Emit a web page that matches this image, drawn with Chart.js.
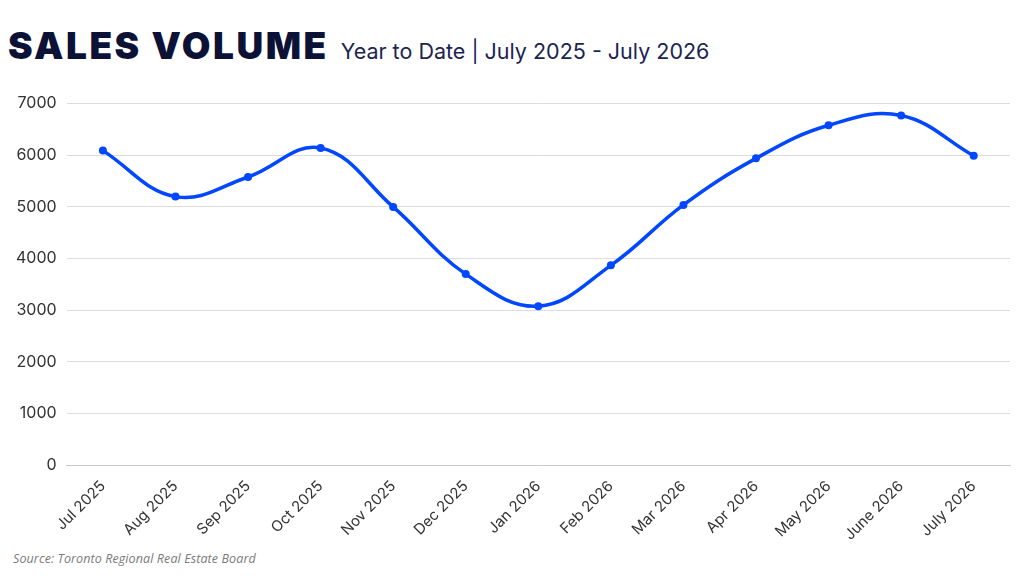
<!DOCTYPE html>
<html>
<head>
<meta charset="utf-8">
<script src="https://cdn.jsdelivr.net/npm/chart.js@4/dist/chart.umd.min.js"></script>
<style>
  html, body { margin: 0; padding: 0; background: #fff; }
  body { width: 1024px; height: 576px; position: relative; overflow: hidden; font-family: Inter, "Open Sans", sans-serif; }
  .head { position: absolute; left: 8px; top: 23px; white-space: nowrap; color: #0b1236; }
  .head .big { font-family: Inter, sans-serif; font-weight: 900; font-size: 37px; letter-spacing: 2.5px; }
  .head .sub { font-size: 21.5px; color: #1c2452; margin-left: 12px; }
  .wrap { position: absolute; left: 0; top: 84px; width: 1024px; height: 464px; }
  .src { position: absolute; left: 13px; top: 550px; font-family: "Open Sans", sans-serif; font-size: 12.5px; letter-spacing: 0.1px; font-style: italic; color: #7a7a7a; }
</style>
</head>
<body>
<div class="head"><span class="big">SALES VOLUME</span><span class="sub">Year to Date | July 2025 - July 2026</span></div>
<div class="wrap"><canvas id="myChart"></canvas></div>
<div class="src">Source: Toronto Regional Real Estate Board</div>
<script>
const months = ['Jul 2025', 'Aug 2025', 'Sep 2025', 'Oct 2025', 'Nov 2025', 'Dec 2025', 'Jan 2026',
  'Feb 2026', 'Mar 2026', 'Apr 2026', 'May 2026', 'June 2026', 'July 2026'];
const salesVolume = [6090, 5200, 5580, 6140, 5000, 3700, 3080, 3870, 5040, 5940, 6580, 6770, 5990];
const yTicks = [0, 1000, 2000, 3000, 4000, 5000, 6000, 7000];

const chart = new Chart(document.getElementById('myChart'), {
  type: 'line',
  data: {
    labels: months,
    datasets: [{
      data: salesVolume,
      borderColor: '#0047ff',
      backgroundColor: '#0047ff',
      borderWidth: 3.5,
      tension: 0.4,
      pointRadius: 4,
      pointBackgroundColor: '#0047ff',
      pointBorderWidth: 0
    }]
  },
  options: {
    responsive: true,
    maintainAspectRatio: false,
    animation: false,
    layout: { padding: { left: 6, right: 14, top: 10, bottom: 0 } },
    plugins: { legend: { display: false }, tooltip: { enabled: false } },
    scales: {
      x: {
        offset: true,
        grid: { display: false },
        border: { color: '#c8c8c8' },
        ticks: {
          color: '#333',
          font: { family: 'Inter', size: 15 },
          maxRotation: 45,
          minRotation: 45,
          padding: 4
        }
      },
      y: {
        min: yTicks[0],
        max: yTicks[yTicks.length - 1],
        afterBuildTicks: (axis) => { axis.ticks = yTicks.map(v => ({ value: v })); },
        grid: { color: '#dcdcdc', lineWidth: 1, drawTicks: false },
        border: { display: false },
        ticks: {
          color: '#333',
          font: { family: 'Inter', size: 16 },
          padding: 10,
          callback: (v) => String(v)
        }
      }
    }
  }
});
</script>
</body>
</html>
